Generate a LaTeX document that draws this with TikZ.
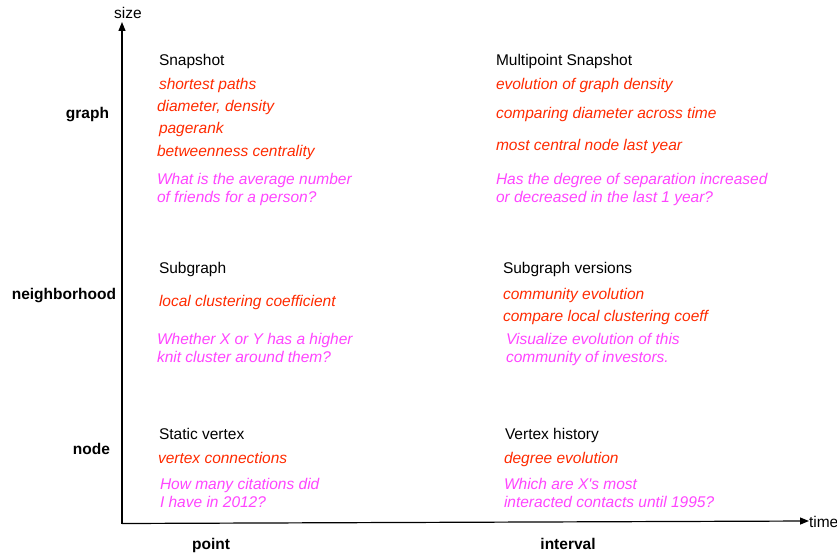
\documentclass[tikz,border=0pt]{standalone}
\usepackage{fontspec}
\setmainfont{Liberation Sans}
\usetikzlibrary{arrows.meta}
\definecolor{cred}{HTML}{FF2A00}
\definecolor{cmag}{HTML}{FF44FF}
\begin{document}
\begin{tikzpicture}[x=1pt,y=-1pt,
  every node/.style={inner sep=0pt,outer sep=0pt,font=\fontsize{15.5}{18}\selectfont},
  ttl/.style={anchor=base west,text=black},
  met/.style={anchor=base west,text=cred,font=\fontsize{15.5}{18}\selectfont\itshape},
  qst/.style={anchor=base west,text=cmag,align=left,font=\fontsize{15.5}{18}\selectfont\itshape},
  lvl/.style={anchor=base east,font=\fontsize{15.5}{18}\selectfont\bfseries},
  tlab/.style={anchor=base,font=\fontsize{15.5}{18}\selectfont\bfseries},
  axis/.style={line width=1.2pt,-{Triangle[length=9pt,width=7pt]}}]
\useasboundingbox (0,0) rectangle (837,556);
\coordinate (O) at (122,523.5);
\coordinate (Y) at (122,22);
\coordinate (X) at (809,521);
\draw[axis] (O) -- (Y);
\draw[axis] (O) -- (X);
\node[anchor=base] (size) at (128,19) {size};
\node[anchor=base west] (time) at (809,527) {time};
% levels
\node[lvl] (lgraph) at (109,119) {graph};
\node[lvl] (lneigh) at (116,299) {neighborhood};
\node[lvl] (lnode) at (110,454) {node};
\node[tlab] (tpoint) at (211,549) {point};
\node[tlab] (tint) at (568,549) {interval};
% top left
\node[ttl] (a0) at (159,66) {Snapshot};
\node[met] (a1) at (159,90) {shortest paths};
\node[met] (a2) at (157,112) {diameter, density};
\node[met] (a3) at (159,134) {pagerank};
\node[met] (a4) at (157,157) {betweenness centrality};
\node[qst] (a5) at (157,202) {What is the average number\\of friends for a person?};
% top right
\node[ttl] (b0) at (496,66) {Multipoint Snapshot};
\node[met] (b1) at (496,90) {evolution of graph density};
\node[met] (b2) at (496,119) {comparing diameter across time};
\node[met] (b3) at (496,151) {most central node last year};
\node[qst] (b5) at (496,202) {Has the degree of separation increased\\or decreased in the last 1 year?};
% middle left
\node[ttl] (c0) at (159,273) {Subgraph};
\node[met] (c1) at (159,306) {local clustering coefficient};
\node[qst] (c5) at (157,362) {Whether X or Y has a higher\\knit cluster around them?};
% middle right
\node[ttl] (d0) at (503,273) {Subgraph versions};
\node[met] (d1) at (503,299) {community evolution};
\node[met] (d2) at (503,321) {compare local clustering coeff};
\node[qst] (d5) at (506,362) {Visualize evolution of this\\community of investors.};
% bottom left
\node[ttl] (e0) at (159,439) {Static vertex};
\node[met] (e1) at (158,463) {vertex connections};
\node[qst] (e5) at (160,507) {How many citations did\\I have in 2012?};
% bottom right
\node[ttl] (f0) at (505,439) {Vertex history};
\node[met] (f1) at (504,463) {degree evolution};
\node[qst] (f5) at (504,507) {Which are X\textquotesingle s most\\interacted contacts until 1995?};
\end{tikzpicture}
\end{document}
